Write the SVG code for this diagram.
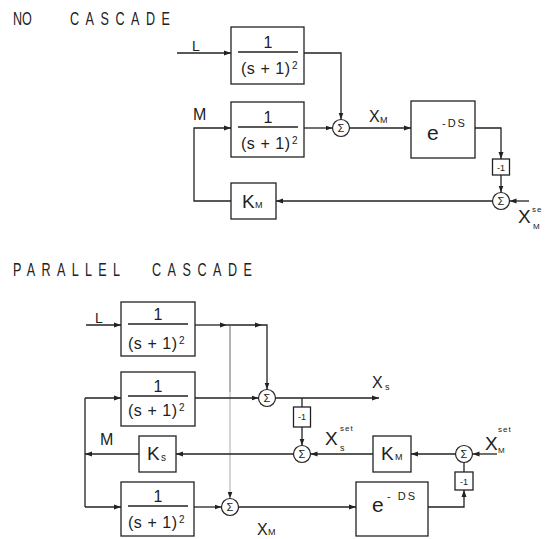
<svg xmlns="http://www.w3.org/2000/svg" width="546" height="539" viewBox="0 0 546 539">
<defs>
<marker id="arr" markerUnits="userSpaceOnUse" markerWidth="8" markerHeight="6" refX="7" refY="3" orient="auto"><path d="M0,0.5 L7,3 L0,5.5 z" fill="#222"/></marker>
</defs>
<style>
.box{fill:#fff;stroke:#222;stroke-width:1.3}
.ln{fill:none;stroke:#222;stroke-width:1.3;marker-end:url(#arr)}
.pl{fill:none;stroke:#222;stroke-width:1.3}
.faint{fill:none;stroke:#aaa;stroke-width:1;marker-end:url(#arr)}
.mid{fill:none;stroke:#666;stroke-width:1}
.frac{stroke:#222;stroke-width:1.3}
.sum{fill:#fff;stroke:#222;stroke-width:1.2}
text{font-family:"Liberation Sans",Arial,sans-serif;fill:#222}
.title{font-size:18px}
.num{font-size:16px;text-anchor:middle}
.den{font-size:16px}
.sup{font-size:10px}
.sig{font-size:11px;text-anchor:middle}
.neg{font-size:9px;text-anchor:middle}
.lab{font-size:16px}
.big{font-size:19px}
.sub{font-size:9px}
.tiny{font-size:8px;letter-spacing:1px}
</style>
<rect width="546" height="539" fill="#fff"/>

<g id="title-no" transform="scale(0.7,1)"><text class="title" x="18.6" y="25">NO</text><text class="title" x="100" y="25" textLength="142.9" lengthAdjust="spacing">CASCADE</text></g>
<g id="title-par" transform="scale(0.7,1)"><text class="title" x="18.6" y="276" textLength="152.9" lengthAdjust="spacing">PARALLEL</text><text class="title" x="217.1" y="276" textLength="142.9" lengthAdjust="spacing">CASCADE</text></g>

<g id="connectors">
<path class="ln" d="M177,53 H231"/>
<path class="ln" d="M304,53 H341 V119.5"/>
<path class="ln" d="M231,201 H194 V128 H231"/>
<path class="ln" d="M304,128 H332.5"/>
<path class="ln" d="M349.5,128 H411"/>
<path class="ln" d="M475,128 H501 V159"/>
<path class="ln" d="M501,175 V192.5"/>
<path class="ln" d="M529,201 H509.5"/>
<path class="ln" d="M492.5,201 H276"/>

<path class="ln" d="M86,325 H121"/>
<path class="ln" d="M195,325 H227"/>
<path class="ln" d="M227,325 H262"/>
<path class="ln" d="M262,325 H267 V389.5"/>
<path class="mid" d="M230,325 V392"/>
<path class="faint" d="M230,392 V498.5"/>
<path class="ln" d="M85,398 H121"/>
<path class="ln" d="M195,398 H258.5"/>
<path class="ln" d="M275.5,398 H379"/>
<path class="pl" d="M302,398 V407"/>
<path class="ln" d="M302,427 V445.5"/>
<path class="ln" d="M293.5,454 H176"/>
<path class="ln" d="M139,454 H85"/>
<path class="pl" d="M85,398 V507"/>
<path class="ln" d="M85,507 H121"/>
<path class="ln" d="M194,507 H221.5"/>
<path class="ln" d="M238.5,507 H356"/>
<path class="ln" d="M428,507 H464 V490"/>
<path class="pl" d="M464,472 V462.5"/>
<path class="ln" d="M497,454 H472.5"/>
<path class="ln" d="M455.5,454 H411"/>
<path class="ln" d="M373,454 H310.5"/>
</g>

<g id="a-g1"><rect class="box" x="231" y="27" width="73" height="57"/><line class="frac" x1="238" y1="52" x2="298" y2="52"/><text class="num" x="268" y="48">1</text><text class="den" x="241" y="74" textLength="49" lengthAdjust="spacing">(s + 1)</text><text class="sup" x="292" y="69">2</text></g>
<g id="a-g2"><rect class="box" x="231" y="102" width="73" height="55"/><line class="frac" x1="238" y1="127" x2="298" y2="127"/><text class="num" x="268" y="123">1</text><text class="den" x="241" y="149" textLength="49" lengthAdjust="spacing">(s + 1)</text><text class="sup" x="292" y="144">2</text></g>
<g id="a-sum1"><circle class="sum" cx="341" cy="128" r="8.5"/><text class="sig" x="341" y="132">Σ</text></g>
<g id="a-delay"><rect class="box" x="411" y="101" width="64" height="57"/><text class="big" x="427" y="140" style="font-size:21px">e</text><text class="sup" x="442" y="127" style="font-size:11px;letter-spacing:2px">-DS</text></g>
<g id="a-neg"><rect class="box" x="492.5" y="159" width="17" height="16"/><text class="neg" x="501" y="170.5">-1</text></g>
<g id="a-sum2"><circle class="sum" cx="501" cy="201" r="8.5"/><text class="sig" x="501" y="205">Σ</text></g>
<g id="a-km"><rect class="box" x="231" y="183" width="45" height="36"/><text class="big" x="242" y="208">K</text><text class="sub" x="255" y="208">M</text></g>

<g id="p-g1"><rect class="box" x="121" y="302" width="74" height="54"/><line class="frac" x1="128" y1="324" x2="188" y2="324"/><text class="num" x="158" y="320">1</text><text class="den" x="128" y="349" textLength="49" lengthAdjust="spacing">(s + 1)</text><text class="sup" x="179" y="344">2</text></g>
<g id="p-g2"><rect class="box" x="121" y="372" width="74" height="54"/><line class="frac" x1="128" y1="396" x2="188" y2="396"/><text class="num" x="158" y="392">1</text><text class="den" x="128" y="416" textLength="49" lengthAdjust="spacing">(s + 1)</text><text class="sup" x="179" y="411">2</text></g>
<g id="p-g3"><rect class="box" x="121" y="482" width="73" height="54"/><line class="frac" x1="128" y1="506" x2="188" y2="506"/><text class="num" x="158" y="502">1</text><text class="den" x="128" y="528" textLength="49" lengthAdjust="spacing">(s + 1)</text><text class="sup" x="179" y="523">2</text></g>
<g id="p-sum1"><circle class="sum" cx="267" cy="398" r="8.5"/><text class="sig" x="267" y="402">Σ</text></g>
<g id="p-neg1"><rect class="box" x="293.5" y="407" width="17" height="20"/><text class="neg" x="302" y="420">-1</text></g>
<g id="p-sum2"><circle class="sum" cx="302" cy="454" r="8.5"/><text class="sig" x="302" y="458">Σ</text></g>
<g id="p-ks"><rect class="box" x="139" y="436" width="37" height="36"/><text class="big" x="147" y="460">K</text><text class="sub" x="161" y="461" style="font-size:10px">s</text></g>
<g id="p-sum3"><circle class="sum" cx="230" cy="507" r="8.5"/><text class="sig" x="230" y="511">Σ</text></g>
<g id="p-km"><rect class="box" x="373" y="436" width="38" height="36"/><text class="big" x="381" y="460">K</text><text class="sub" x="395" y="460">M</text></g>
<g id="p-summ"><circle class="sum" cx="464" cy="454" r="8.5"/><text class="sig" x="464" y="458">Σ</text></g>
<g id="p-neg2"><rect class="box" x="455" y="472" width="18" height="18"/><text class="neg" x="464" y="484.5">-1</text></g>
<g id="p-delay"><rect class="box" x="356" y="482" width="72" height="54"/><text class="big" x="372" y="512" style="font-size:21px">e</text><text class="sup" x="387" y="500" style="font-size:11px;letter-spacing:2px">- DS</text></g>

<g id="labels">
<text class="lab" x="192" y="51" style="font-size:14px">L</text>
<text class="lab" x="193" y="120">M</text>
<text class="lab" x="369" y="122">X</text><text class="sub" x="380" y="123">M</text>
<text class="big" x="518" y="223">X</text><text class="tiny" x="532" y="212">se</text><text class="tiny" x="533" y="229">M</text>

<text class="lab" x="95" y="323" style="font-size:14px">L</text>
<text class="lab" x="372" y="388">X</text><text class="sub" x="385" y="390">s</text>
<text class="lab" x="100" y="445">M</text>
<text class="lab" x="257" y="535">X</text><text class="sub" x="268" y="535">M</text>
<text class="big" x="325" y="445">X</text><text class="tiny" x="340" y="431">set</text><text class="sub" x="340" y="451">s</text>
<text class="big" x="485" y="450">X</text><text class="tiny" x="498" y="432">set</text><text class="tiny" x="498" y="453">M</text>
</g>
</svg>
